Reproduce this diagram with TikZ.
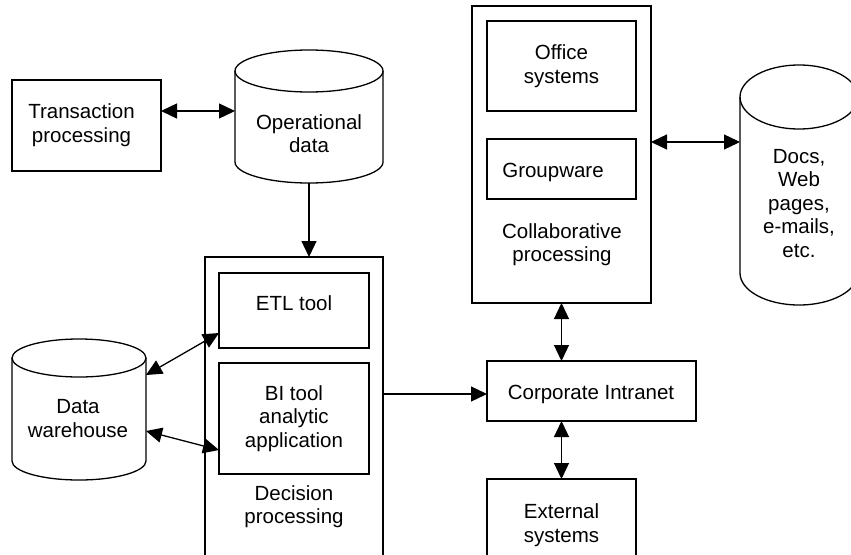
\documentclass[tikz,border=0pt]{standalone}
\usepackage{fontspec}
\setmainfont{Liberation Sans}
\usetikzlibrary{arrows.meta}

\begin{document}
\begin{tikzpicture}[x=1pt, y=-1pt,
  every node/.style={inner sep=0pt, outer sep=0pt},
  lbl/.style={align=center, font=\fontsize{20.5}{23.5}\selectfont},
  boxn/.style={draw, line width=1.3pt, rectangle, lbl},
  cylbody/.style={rectangle},
  cylline/.style={line width=1.3pt},
  tip/.tip={Triangle[length=16pt, width=15pt]},
  link/.style={line width=1.3pt, -tip},
  biglink/.style={line width=1.3pt, tip-tip}
]
\clip (0,0) rectangle (851,554);

% ---- Transaction processing and operational data
\node[boxn, minimum width=149pt, minimum height=91pt] (tp) at (86.5,125.5) {};
\node[lbl] (tptext) at (81.5,125) {Transaction\\processing};

\node[cylbody, minimum width=148pt, minimum height=133pt] (od) at (309,116.5) {};
\draw[cylline] (235,71) -- (235,162) arc[start angle=180, end angle=360, x radius=74pt, y radius=21pt] -- (383,71);
\draw[cylline] (309,71) ellipse[x radius=74pt, y radius=21pt];
\node[lbl] (odtext) at (309,133.5) {Operational\\data};

% ---- Decision processing
\node[boxn, minimum width=178pt, minimum height=343pt] (dp) at (294,428.5) {};
\node[boxn, minimum width=150pt, minimum height=75pt] (etl) at (294,310.5) {};
\node[lbl] (etltext) at (294,303) {ETL tool};
\node[boxn, minimum width=150pt, minimum height=111pt] (bi) at (294,418.5) {BI tool\\analytic\\application};
\node[lbl] (dptext) at (294,506.5) {Decision\\processing};

% ---- Data warehouse
\node[cylbody, minimum width=134pt, minimum height=140pt] (dw) at (79,410) {};
\draw[cylline] (12,358) -- (12,461) arc[start angle=180, end angle=360, x radius=67pt, y radius=19pt] -- (146,358);
\draw[cylline] (79,358) ellipse[x radius=67pt, y radius=19pt];
\node[lbl] (dwtext) at (78,418.5) {Data\\warehouse};

% ---- Collaborative processing
\node[boxn, minimum width=179pt, minimum height=297pt] (cp) at (561.5,154.5) {};
\node[boxn, minimum width=149pt, minimum height=90pt] (off) at (561.5,66) {Office\\systems};
\node[boxn, minimum width=149pt, minimum height=60pt] (gw) at (561.5,169) {};
\node[lbl] (gwtext) at (553,172) {Groupware};
\node[lbl] (cptext) at (562,244.5) {Collaborative\\processing};

% ---- Documents store
\node[cylbody, minimum width=118pt, minimum height=240pt] (docs) at (799,185) {};
\draw[cylline] (740,97) -- (740,273) arc[start angle=180, end angle=360, x radius=59pt, y radius=32pt] -- (858,97);
\draw[cylline] (799,97) ellipse[x radius=59pt, y radius=32pt];
\node[lbl] (docstext) at (799,203.5) {Docs,\\Web\\pages,\\e-mails,\\etc.};

% ---- Intranet and external systems
\node[boxn, minimum width=209pt, minimum height=60pt] (ci) at (591.5,391) {};
\node[lbl] (citext) at (591,394) {Corporate Intranet};
\node[boxn, minimum width=149pt, minimum height=92pt] (ext) at (561.5,525) {External\\systems};

% ---- Connectors
\draw[biglink] ([yshift=14.5pt]tp.east) -- ([yshift=14.5pt]tp.east -| od.west);
\draw[link] (od.south) -- (od.south |- dp.north);
\draw[biglink] ([yshift=35pt]dw.east) -- ([yshift=-22.5pt]etl.west);
\draw[biglink] ([yshift=-21pt]dw.east) -- ([yshift=-31.5pt]bi.west);
\draw[link] ([yshift=-3pt]ci.west -| dp.east) -- ([yshift=-3pt]ci.west);
\draw[biglink] (cp.south) -- (cp.south |- ci.north);
\draw[biglink] (ci.south -| ext.north) -- (ext.north);
\draw[biglink] ([yshift=12.5pt]cp.east) -- ([yshift=12.5pt]cp.east -| docs.west);
\end{tikzpicture}
\end{document}
